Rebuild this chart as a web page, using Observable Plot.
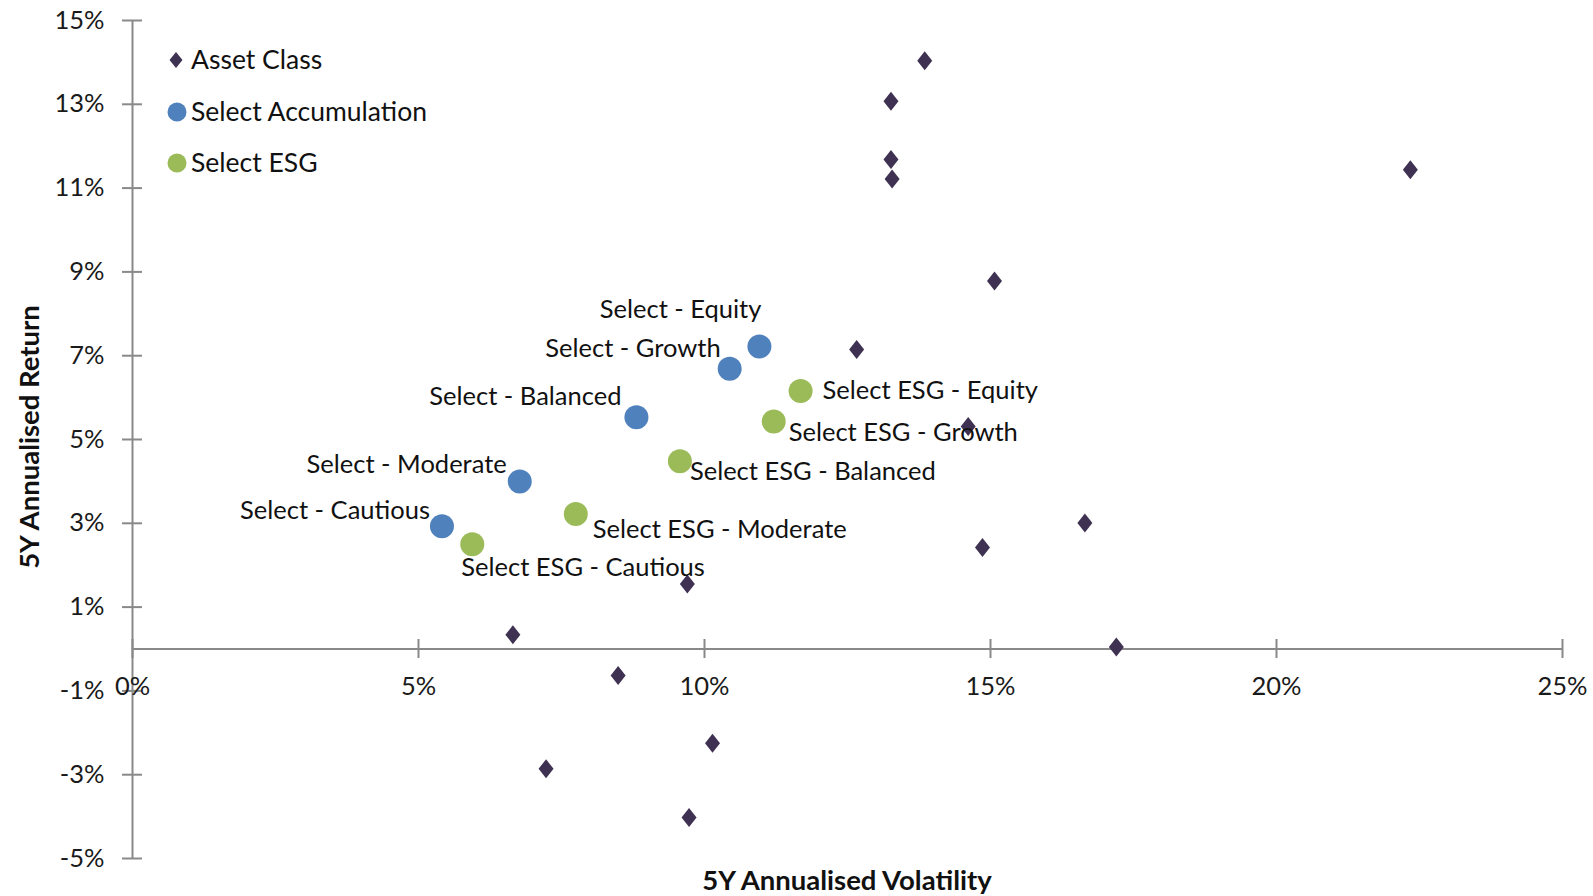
<!DOCTYPE html>
<html><head><meta charset="utf-8">
<script src="https://cdn.jsdelivr.net/npm/d3@7"></script>
<script src="https://cdn.jsdelivr.net/npm/@observablehq/plot@0.6"></script>
<style>
body{margin:0;background:#fff;}
#wrap{position:relative;width:1593px;height:896px;}
</style></head><body><div id="wrap"></div>
<script>
// ---- data ----
const assetVol = [13.85, 13.26, 13.26, 13.28, 22.34, 15.07, 12.66, 14.61, 16.65, 14.86, 9.70, 6.65, 17.20, 8.49, 10.14, 7.23, 9.73];
const assetRet = [14.04, 13.07, 11.68, 11.22, 11.44, 8.78, 7.15, 5.31, 3.01, 2.42, 1.55, 0.34, 0.05, -0.63, -2.25, -2.86, -4.02];
const fundNames = ["Equity", "Growth", "Balanced", "Moderate", "Cautious"];
const accVol = [10.96, 10.44, 8.81, 6.77, 5.41];
const accRet = [7.22, 6.69, 5.53, 4.00, 2.93];
const esgVol = [11.68, 11.21, 9.57, 7.75, 5.94];
const esgRet = [6.16, 5.43, 4.48, 3.22, 2.50];
const xTicks = [0, 5, 10, 15, 20, 25];
const yTicks = [15, 13, 11, 9, 7, 5, 3, 1, -1, -3, -5];
const seriesNames = ["Asset Class", "Select Accumulation", "Select ESG"];

// ---- layout / style ----
const FONT = "Lato, 'Noto Sans', sans-serif";
const FS = 25.5;
const FS_LEG = 26.5;
const FS_TITLE = 27.5;
const AXIS = "#898989";
const C_ASSET = "#3F3151", C_ACC = "#4F81BD", C_ESG = "#9BBB59";
const accLabelOff = [[2, -37, "end"], [-9, -20, "end"], [-15, -20, "end"], [-13, -17, "end"], [-12, -15, "end"]];
const esgLabelOff = [[22, 0, "start"], [15, 11, "start"], [10, 11, "start"], [17, 16, "start"], [-11, 24, "start"]];

const diamond = {draw(ctx) { ctx.moveTo(0, -9.5); ctx.lineTo(7.5, 0); ctx.lineTo(0, 9.5); ctx.lineTo(-7.5, 0); ctx.closePath(); }};

const assets = assetVol.map((v, i) => ({vol: v, ret: assetRet[i]}));
const acc = fundNames.map((n, i) => ({name: "Select - " + n, vol: accVol[i], ret: accRet[i], off: accLabelOff[i]}));
const esg = fundNames.map((n, i) => ({name: "Select ESG - " + n, vol: esgVol[i], ret: esgRet[i], off: esgLabelOff[i]}));

const labelMarks = [...acc, ...esg].map(d => Plot.text([d], {
  x: "vol", y: "ret", text: "name", dx: d.off[0], dy: d.off[1], textAnchor: d.off[2],
  fill: "#111", fontSize: FS
}));

const chart = Plot.plot({
  width: 1593, height: 896,
  marginLeft: 132, marginRight: 31, marginTop: 20, marginBottom: 38,
  x: {domain: [0, 25], axis: null},
  y: {domain: [-5, 15], axis: null},
  style: {fontFamily: FONT, background: "#fff", overflow: "visible"},
  marks: [
    Plot.ruleY([0], {x1: 0, x2: 25, stroke: AXIS, strokeWidth: 2}),
    Plot.ruleX([0], {y1: -5, y2: 15, stroke: AXIS, strokeWidth: 2}),
    Plot.ruleX(xTicks, {x: d => d, y1: 0, y2: 0, insetTop: -9.5, insetBottom: -9.5, stroke: AXIS, strokeWidth: 2}),
    Plot.ruleY(yTicks, {y: d => d, x1: 0, x2: 0, insetLeft: -10, insetRight: -10, stroke: AXIS, strokeWidth: 2}),
    Plot.text(yTicks, {x: 0, y: d => d, text: d => d + "%", textAnchor: "end", dx: -28, fill: "#1a1a1a", fontSize: FS}),
    Plot.text(xTicks, {x: d => d, y: 0, text: d => d + "%", dy: 38, fill: "#1a1a1a", fontSize: FS}),
    Plot.dot(assets, {x: "vol", y: "ret", symbol: diamond, fill: C_ASSET, stroke: "none", r: 8}),
    Plot.dot(acc, {x: "vol", y: "ret", r: 12, fill: C_ACC, stroke: "none"}),
    Plot.dot(esg, {x: "vol", y: "ret", r: 12, fill: C_ESG, stroke: "none"}),
    ...labelMarks
  ]
});
document.getElementById("wrap").appendChild(chart);

// axis titles and legend
const svg = d3.select(chart);
svg.append("text").attr("transform", "translate(29,437) rotate(-90)")
  .attr("text-anchor", "middle").attr("dy", "0.35em")
  .style("font-family", FONT).style("font-weight", "bold").style("font-size", FS_TITLE + "px").attr("fill", "#111")
  .text("5Y Annualised Return");
svg.append("text").attr("x", 847).attr("y", 880)
  .attr("text-anchor", "middle").attr("dy", "0.35em")
  .style("font-family", FONT).style("font-weight", "bold").style("font-size", FS_TITLE + "px").attr("fill", "#111")
  .text("5Y Annualised Volatility");

const leg = svg.append("g");
const legY = [60, 112, 163];
const legColors = [C_ASSET, C_ACC, C_ESG];
seriesNames.forEach((name, i) => {
  if (i === 0) {
    leg.append("path").attr("d", "M0,-8L6.5,0L0,8L-6.5,0Z").attr("transform", `translate(176,${legY[i]})`).attr("fill", legColors[i]);
  } else {
    leg.append("circle").attr("cx", 177).attr("cy", legY[i]).attr("r", 9.5).attr("fill", legColors[i]);
  }
  leg.append("text").attr("x", 191).attr("y", legY[i]).attr("dy", "0.35em").attr("text-anchor", "start")
    .style("font-family", FONT).style("font-size", FS_LEG + "px").attr("fill", "#111").text(name);
});
</script></body></html>
